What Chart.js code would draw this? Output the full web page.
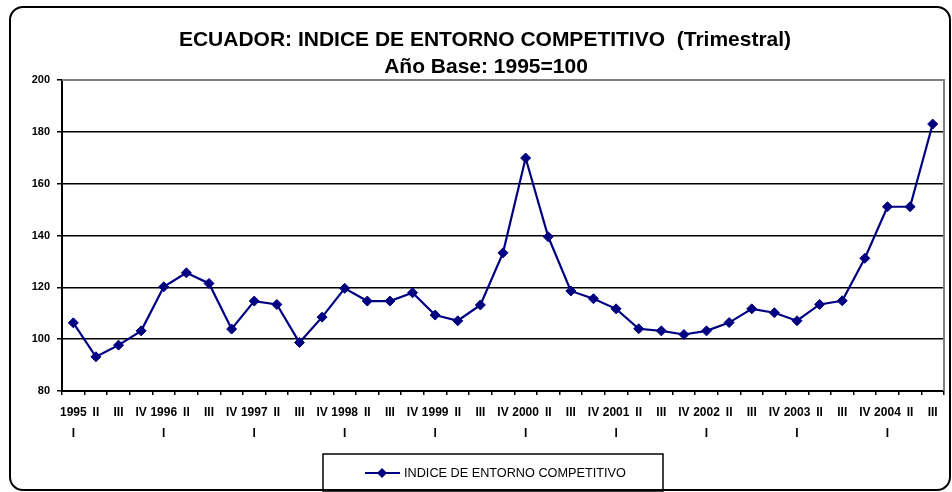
<!DOCTYPE html>
<html>
<head>
<meta charset="utf-8">
<script src="https://cdn.jsdelivr.net/npm/chart.js@4.4.1/dist/chart.umd.min.js"></script>
<style>
    html, body { margin: 0; padding: 0; background: #fff; }
    #wrap { width: 952px; height: 492px; }
</style>
</head>
<body>
<div id="wrap"><canvas id="indiceChart" width="952" height="492"></canvas></div>
<script>
// categories: quarter labels (year shown under the first quarter)
const quarterLabels = [
    ['1995', 'I'], 'II', 'III', 'IV',
    ['1996', 'I'], 'II', 'III', 'IV',
    ['1997', 'I'], 'II', 'III', 'IV',
    ['1998', 'I'], 'II', 'III', 'IV',
    ['1999', 'I'], 'II', 'III', 'IV',
    ['2000', 'I'], 'II', 'III', 'IV',
    ['2001', 'I'], 'II', 'III', 'IV',
    ['2002', 'I'], 'II', 'III', 'IV',
    ['2003', 'I'], 'II', 'III', 'IV',
    ['2004', 'I'], 'II', 'III'
];

// INDICE DE ENTORNO COMPETITIVO, 1995=100
const indiceValues = [
    106.3, 93.2, 97.7, 103.2,
    120.2, 125.6, 121.5, 103.9,
    114.7, 113.4, 98.7, 108.5,
    119.6, 114.7, 114.7, 117.9,
    109.3, 107.1, 113.2, 133.3,
    169.9, 139.5, 118.6, 115.6,
    111.7, 104.0, 103.2, 101.8,
    103.2, 106.4, 111.7, 110.2,
    107.1, 113.4, 114.8, 131.2,
    151.1, 151.1, 183.0
];

const yTicks = [80, 100, 120, 140, 160, 180, 200];

const titleLines = ['ECUADOR: INDICE DE ENTORNO COMPETITIVO  (Trimestral)', 'Año Base: 1995=100'];
const seriesName = 'INDICE DE ENTORNO COMPETITIVO';

const NAVY = '#000080';
const FONT = '"Liberation Sans", Arial, sans-serif';

function drawDiamond(ctx, x, y, r) {
    ctx.beginPath();
    ctx.moveTo(x, y - r);
    ctx.lineTo(x + r, y);
    ctx.lineTo(x, y + r);
    ctx.lineTo(x - r, y);
    ctx.closePath();
    ctx.fill();
}

// frame, titles, plot border and legend box
const decorPlugin = {
    id: 'decor',
    beforeDraw(chart) {
        const ctx = chart.ctx;
        ctx.save();
        ctx.fillStyle = '#fff';
        ctx.fillRect(0, 0, chart.width, chart.height);
        ctx.restore();
    },
    afterDraw(chart) {
        const ctx = chart.ctx;
        const area = chart.chartArea;
        ctx.save();

        // outer rounded frame
        ctx.strokeStyle = '#000';
        ctx.lineWidth = 2;
        ctx.beginPath();
        ctx.roundRect(10, 7, 940, 483, 13);
        ctx.stroke();

        // titles
        ctx.fillStyle = '#000';
        ctx.textAlign = 'center';
        ctx.textBaseline = 'middle';
        ctx.font = 'bold 21px ' + FONT;
        ctx.fillText(titleLines[0], 485, 40);
        ctx.fillText(titleLines[1], 486, 67);

        // gray plot border top/right
        ctx.strokeStyle = '#808080';
        ctx.lineWidth = 2;
        ctx.beginPath();
        ctx.moveTo(area.left, area.top);
        ctx.lineTo(area.right, area.top);
        ctx.lineTo(area.right, area.bottom);
        ctx.stroke();

        // legend
        ctx.strokeStyle = '#000';
        ctx.lineWidth = 1.5;
        ctx.strokeRect(323, 454, 340, 37);
        ctx.strokeStyle = NAVY;
        ctx.lineWidth = 2;
        ctx.beginPath();
        ctx.moveTo(365, 473);
        ctx.lineTo(400, 473);
        ctx.stroke();
        ctx.fillStyle = NAVY;
        drawDiamond(ctx, 382, 473, 5);
        ctx.fillStyle = '#000';
        ctx.textAlign = 'left';
        ctx.font = '12.7px ' + FONT;
        ctx.fillText(seriesName, 404, 473);

        ctx.restore();
    }
};

function createIndiceChart() {
    const ctx = document.getElementById('indiceChart').getContext('2d');

    return new Chart(ctx, {
        type: 'line',
        data: {
            labels: quarterLabels,
            datasets: [{
                label: seriesName,
                data: indiceValues,
                borderColor: NAVY,
                backgroundColor: NAVY,
                borderWidth: 2.2,
                pointStyle: 'rectRot',
                pointRadius: 5,
                pointBackgroundColor: NAVY,
                pointBorderColor: NAVY,
                pointBorderWidth: 1,
                tension: 0,
                fill: false
            }]
        },
        options: {
            responsive: false,
            animation: false,
            layout: {
                padding: { left: 10, right: 8, top: 80, bottom: 41 }
            },
            plugins: {
                legend: { display: false },
                title: { display: false },
                tooltip: { enabled: false }
            },
            scales: {
                x: {
                    type: 'category',
                    offset: true,
                    afterFit: (scale) => { scale.height = 60; },
                    border: { color: '#000', width: 2 },
                    grid: {
                        offset: true,
                        drawOnChartArea: false,
                        drawTicks: true,
                        tickLength: 4,
                        color: '#000',
                        lineWidth: 1.5
                    },
                    ticks: {
                        color: '#000',
                        autoSkip: false,
                        maxRotation: 0,
                        minRotation: 0,
                        padding: 7,
                        font: { family: FONT, size: 12, weight: 'bold', lineHeight: '21px' }
                    }
                },
                y: {
                    min: 80,
                    max: 200,
                    afterFit: (scale) => { scale.width = 52; },
                    afterBuildTicks: (scale) => {
                        scale.ticks = yTicks.map(v => ({ value: v }));
                    },
                    border: { color: '#000', width: 2 },
                    grid: {
                        color: (c) => c.tick && c.tick.value === 200 ? 'rgba(0,0,0,0)' : '#000',
                        lineWidth: 1.5,
                        tickLength: 5,
                        tickColor: '#000'
                    },
                    ticks: {
                        color: '#000',
                        padding: 7,
                        font: { family: FONT, size: 11, weight: 'bold' }
                    }
                }
            }
        },
        plugins: [decorPlugin]
    });
}

document.addEventListener('DOMContentLoaded', () => {
    createIndiceChart();
});
</script>
</body>
</html>
